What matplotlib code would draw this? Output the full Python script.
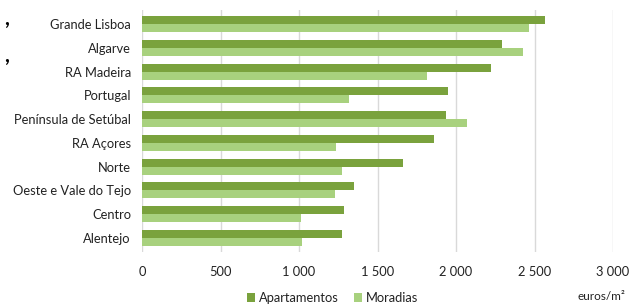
import matplotlib
matplotlib.use("Agg")
import matplotlib.pyplot as plt
import numpy as np

plt.rcParams['font.family'] = ['Lato', 'DejaVu Sans']

categories = ["Grande Lisboa", "Algarve", "RA Madeira", "Portugal", "Península de Setúbal",
              "RA Açores", "Norte", "Oeste e Vale do Tejo", "Centro", "Alentejo"]
apartamentos = [2570, 2290, 2224, 1947, 1938, 1858, 1660, 1349, 1289, 1276]
moradias = [2468, 2424, 1817, 1321, 2070, 1236, 1272, 1232, 1013, 1020]
xticks = [0, 500, 1000, 1500, 2000, 2500, 3000]
xticklabels = ["0", "500", "1 000", "1 500", "2 000", "2 500", "3 000"]

dark = "#7AA23D"
light = "#A8D17E"

fig = plt.figure(figsize=(6.44, 3.08), dpi=100)
ax = fig.add_axes([142/644, 1-252/308, (613-142)/644, (252-10)/308])

n = len(categories)
y = np.arange(n)[::-1].astype(float)
h = 0.34
ax.barh(y + h/2, apartamentos, height=h, color=dark, label="Apartamentos", zorder=3)
ax.barh(y - h/2, moradias, height=h, color=light, label="Moradias", zorder=3)

ax.set_xlim(0, 3000)
ax.set_ylim(-0.6, n - 0.4)
ax.set_yticks(y)
ax.set_yticklabels(categories, fontsize=9.3, color="#222222")
ax.set_xticks(xticks)
ax.set_xticklabels(xticklabels, fontsize=9.3, color="#222222")
ax.tick_params(axis='both', length=0)
ax.tick_params(axis='y', pad=8)
ax.tick_params(axis='x', pad=10)
ax.grid(axis='x', color="#d9d9d9", linewidth=1.0, zorder=0)
for s in ax.spines.values():
    s.set_visible(False)

leg = fig.legend(loc='center', bbox_to_anchor=(333/644, 1-298/308), ncol=2, frameon=False,
                 fontsize=9.3, handlelength=0.6, handleheight=0.6, handletextpad=0.3,
                 columnspacing=1.2)
for t in leg.get_texts():
    t.set_color("#222222")

fig.text(577/644, 1-296/308, "euros/m²", fontsize=8.5, color="#222222", ha='left', va='center')
fig.text(4/644, 1-19/308, ",", fontsize=15, fontweight='bold', color="black", ha='left', va='center')
fig.text(4/644, 1-56/308, ",", fontsize=15, fontweight='bold', color="black", ha='left', va='center')

fig.savefig("out.png", dpi=100)
